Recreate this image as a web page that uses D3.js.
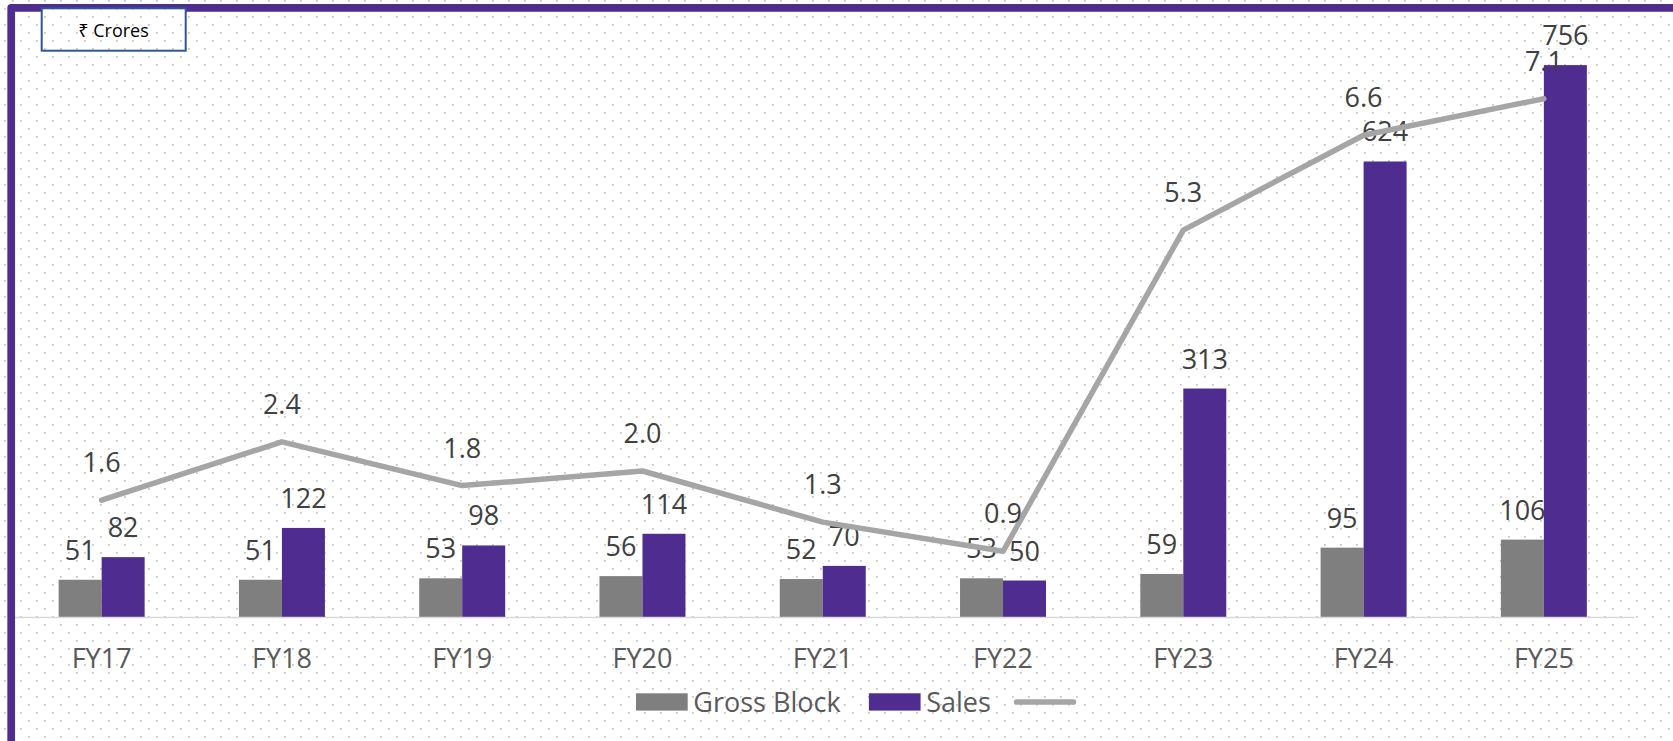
<!DOCTYPE html>
<html>
<head>
<meta charset="utf-8">
<script src="https://cdn.jsdelivr.net/npm/d3@7/dist/d3.min.js"></script>
<style>
  html, body { margin: 0; padding: 0; background: #ffffff; }
  svg { display: block; }
  text { font-family: "Open Sans", "Noto Sans", sans-serif; }
</style>
</head>
<body>
<svg id="chart" width="1673" height="741"></svg>
<script>
// Fiscal years on the category axis
const years = ["FY17", "FY18", "FY19", "FY20", "FY21", "FY22", "FY23", "FY24", "FY25"];
// ₹ Crores
const grossBlock = [51, 51, 53, 56, 52, 53, 59, 95, 106];
const sales = [82, 122, 98, 114, 70, 50, 313, 624, 756];
// Asset turnover (Sales / Gross Block), secondary axis
const turnover = [1.6, 2.4, 1.8, 2.0, 1.3, 0.9, 5.3, 6.6, 7.1];
const turnoverLabels = ["1.6", "2.4", "1.8", "2.0", "1.3", "0.9", "5.3", "6.6", "7.1"];
const seriesNames = ["Gross Block", "Sales"];
const unitLabel = "₹ Crores";

const W = 1673, H = 741;
const plot = { left: 11.5, right: 1634, top: 33, bottom: 617 };
const barColors = { "Gross Block": "#7f7f7f", "Sales": "#4f2c8f" };
const lineColor = "#a5a5a5";
const frameColor = "#4f2c8f";

const svg = d3.select("#chart");
const defs = svg.append("defs");

// dotted backdrop
const pat = defs.append("pattern")
  .attr("id", "dots").attr("patternUnits", "userSpaceOnUse")
  .attr("width", 16).attr("height", 16);
pat.append("rect").attr("width", 16).attr("height", 16).attr("fill", "#ffffff");
pat.append("rect").attr("x", 4).attr("y", 8).attr("width", 1.8).attr("height", 1.8).attr("fill", "#c6c6c6");
pat.append("rect").attr("x", 12).attr("y", 0).attr("width", 1.8).attr("height", 1.8).attr("fill", "#c6c6c6");
svg.append("rect").attr("width", W).attr("height", H).attr("fill", "url(#dots)");

// Scales
const x = d3.scaleBand().domain(years).range([plot.left, plot.right]).padding(0);
const groupW = x.step() * 0.477;
const xs = d3.scaleBand().domain(seriesNames).range([-groupW / 2, groupW / 2]).padding(0);
const y = d3.scaleLinear().domain([0, 800]).range([plot.bottom, plot.top]);
const y2 = d3.scaleLinear().domain([0, 8]).range([plot.bottom, plot.top]);
const cx = d => x(d) + x.bandwidth() / 2;

// Bars
const rows = years.map((yr, i) => ({ yr, values: [
  { name: "Gross Block", v: grossBlock[i] },
  { name: "Sales", v: sales[i] }
]}));

const groups = svg.append("g").selectAll("g").data(rows).join("g")
  .attr("transform", d => `translate(${cx(d.yr)},0)`);

groups.selectAll("rect").data(d => d.values).join("rect")
  .attr("x", d => xs(d.name))
  .attr("width", xs.bandwidth())
  .attr("y", d => y(d.v))
  .attr("height", d => y(0) - y(d.v))
  .attr("fill", d => barColors[d.name]);

// Category axis
const axis = svg.append("g")
  .attr("transform", `translate(0,${plot.bottom})`)
  .call(d3.axisBottom(x).tickSize(0).tickSizeOuter(0));
axis.select(".domain").attr("stroke", "#d9d9d9").attr("stroke-width", 1.6);
axis.selectAll(".tick text")
  .attr("y", 51.3).attr("dy", 0)
  .attr("fill", "#595959")
  .style("font-size", "27px")
  .style("font-family", "'Open Sans', 'Noto Sans', sans-serif");

// Bar value labels
groups.selectAll("text.val").data(d => d.values).join("text")
  .attr("class", "val")
  .attr("x", d => xs(d.name) + xs.bandwidth() / 2)
  .attr("y", d => y(d.v) - 20)
  .attr("text-anchor", "middle")
  .attr("fill", "#404040")
  .style("font-size", "27px")
  .text(d => d.v);

// Turnover line
const pts = years.map((yr, i) => ({ yr, v: turnover[i], label: turnoverLabels[i] }));
svg.append("path")
  .datum(pts)
  .attr("fill", "none")
  .attr("stroke", lineColor)
  .attr("stroke-width", 5.5)
  .attr("stroke-linejoin", "round")
  .attr("stroke-linecap", "round")
  .attr("d", d3.line().x(d => cx(d.yr)).y(d => y2(d.v)));

svg.append("g").selectAll("text").data(pts).join("text")
  .attr("x", d => cx(d.yr))
  .attr("y", d => y2(d.v) - 28)
  .attr("text-anchor", "middle")
  .attr("fill", "#404040")
  .style("font-size", "27px")
  .text(d => d.label);

// Frame along the left and top edges
svg.append("path")
  .attr("d", `M11.2,${H} V7.85 H${W}`)
  .attr("fill", "none")
  .attr("stroke", frameColor)
  .attr("stroke-width", 7.7)
  .attr("stroke-linejoin", "round");

// Unit box
svg.append("rect")
  .attr("x", 41.7).attr("y", 8.3).attr("width", 144).attr("height", 42.4)
  .attr("fill", "url(#dots)")
  .attr("stroke", "#2f5597").attr("stroke-width", 2);
svg.append("text")
  .attr("x", 113.5).attr("y", 36.7)
  .attr("text-anchor", "middle")
  .attr("fill", "#000000")
  .style("font-size", "18px")
  .text(unitLabel);

// Legend
const legend = svg.append("g").attr("transform", "translate(636,0)");
let lx = 0;
seriesNames.forEach(name => {
  legend.append("rect")
    .attr("x", lx).attr("y", 693.3).attr("width", 51.7).attr("height", 17.3)
    .attr("fill", barColors[name]);
  const t = legend.append("text")
    .attr("x", lx + 57.3).attr("y", 711.5)
    .attr("fill", "#595959")
    .style("font-size", "27px")
    .text(name);
  lx += 57.3 + t.node().getComputedTextLength() + 28.3;
});
legend.append("line")
  .attr("x1", lx - 2.5).attr("x2", lx + 54.2)
  .attr("y1", 702).attr("y2", 702)
  .attr("stroke", lineColor).attr("stroke-width", 5.7)
  .attr("stroke-linecap", "round");
</script>
</body>
</html>
